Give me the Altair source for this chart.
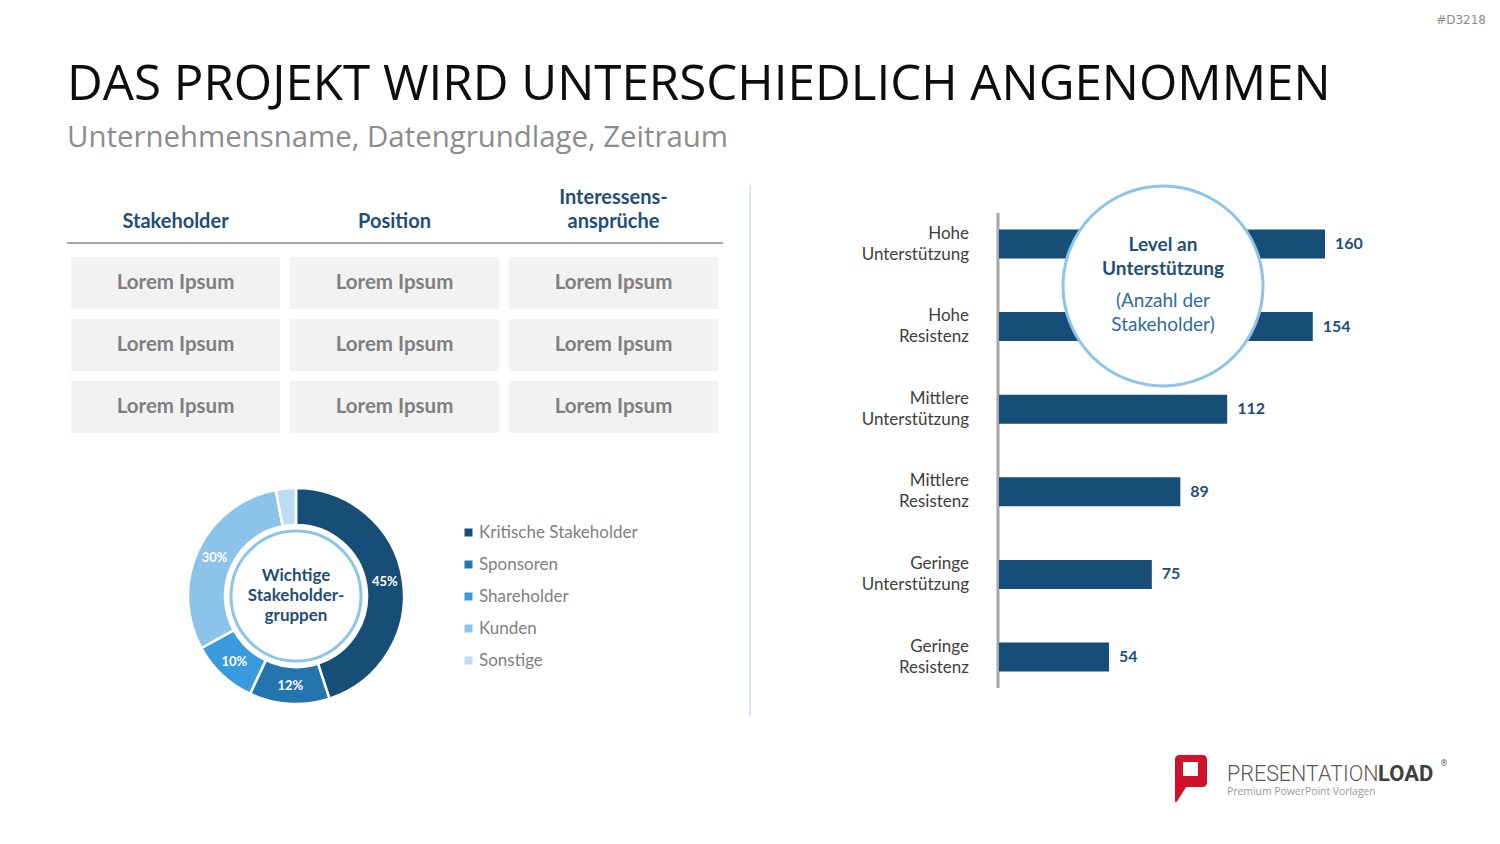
import altair as alt
import pandas as pd

# ---------------- data ----------------
table_headers = ["Stakeholder", "Position", "Interessens-\nansprüche"]
table_rows = [
    ["Lorem Ipsum", "Lorem Ipsum", "Lorem Ipsum"],
    ["Lorem Ipsum", "Lorem Ipsum", "Lorem Ipsum"],
    ["Lorem Ipsum", "Lorem Ipsum", "Lorem Ipsum"],
]
stakeholder_groups = ["Kritische Stakeholder", "Sponsoren", "Shareholder", "Kunden", "Sonstige"]
group_shares = [45, 12, 10, 30, 3]
group_labels = ["45%", "12%", "10%", "30%", ""]
group_colors = ["#174e78", "#2474b0", "#3a9ade", "#8bc3ea", "#bddcf4"]

support_levels = ["Hohe Unterstützung", "Hohe Resistenz", "Mittlere Unterstützung",
                  "Mittlere Resistenz", "Geringe Unterstützung", "Geringe Resistenz"]
support_counts = [160, 154, 112, 89, 75, 54]

DARK = "#1f4e79"
BAR = "#174e78"
LIGHT = "#8cc4ea"
CAL = "Lato"
OS = "Open Sans"

# ---------------- helpers ----------------
one = pd.DataFrame({"k": [0]})


def txt(text, x, y, size, color, weight="normal", font=CAL, align="left",
        baseline="alphabetic", lh=None, brk=None, dy=0):
    kw = dict(text=text, fontSize=size, color=color, fontWeight=weight, font=font,
              align=align, baseline=baseline, dy=dy)
    if lh:
        kw["lineHeight"] = lh
    if brk:
        kw["lineBreak"] = brk
    return alt.Chart(one).mark_text(**kw).encode(x=alt.value(x), y=alt.value(y))


def rule(x, y, x2=None, y2=None, color="#a6a6a6", w=2):
    enc = dict(x=alt.value(x), y=alt.value(y))
    if x2 is not None:
        enc["x2"] = alt.value(x2)
    if y2 is not None:
        enc["y2"] = alt.value(y2)
    return alt.Chart(one).mark_rule(color=color, strokeWidth=w).encode(**enc)


layers = []

# ---------------- titles ----------------
layers.append(txt("#D3218", 1486, 24, 12, "#8c8c8c", font="DejaVu Sans", align="right"))
layers.append(txt("DAS PROJEKT WIRD UNTERSCHIEDLICH ANGENOMMEN", 67, 100, 49.3, "#0d0d0d", font=OS))
layers.append(txt("Unternehmensname, Datengrundlage, Zeitraum", 67, 147, 29.4, "#8c8c8c", font=OS))

# ---------------- table ----------------
cells = pd.DataFrame([
    {"row": r, "col": c, "text": table_rows[r][c]}
    for r in range(len(table_rows)) for c in range(len(table_headers))
])
head_parts = [h.split("\n") for h in table_headers]
heads = pd.DataFrame({
    "col": list(range(len(table_headers))),
    "line1": [p[0] if len(p) > 1 else "" for p in head_parts],
    "line2": [p[-1] for p in head_parts],
})

xcol = alt.X("col:O", axis=None,
             scale=alt.Scale(type="band", domain=[0, 1, 2], range=[71, 718],
                             paddingInner=10 / 219, paddingOuter=0))
yrow = alt.Y("row:O", axis=None,
             scale=alt.Scale(type="band", domain=[0, 1, 2], range=[257, 433],
                             paddingInner=10 / 62, paddingOuter=0))

layers.append(alt.Chart(cells).mark_rect(color="#f2f2f2").encode(x=xcol, y=yrow))
layers.append(alt.Chart(cells).mark_text(font=CAL, fontSize=20.5, fontWeight="bold", color="#7f7f7f")
              .encode(x=xcol, y=yrow, text="text:N"))
layers.append(alt.Chart(heads).mark_text(font=CAL, fontSize=20, fontWeight="bold", color=DARK,
                                         baseline="middle")
              .encode(x=xcol, y=alt.value(198), text="line1:N"))
layers.append(alt.Chart(heads).mark_text(font=CAL, fontSize=20, fontWeight="bold", color=DARK,
                                         baseline="middle")
              .encode(x=xcol, y=alt.value(222), text="line2:N"))
layers.append(rule(67, 243, x2=723, color="#a6a6a6", w=2))

# ---------------- donut ----------------
donut = pd.DataFrame({"group": stakeholder_groups, "share": group_shares,
                      "label": group_labels, "idx": list(range(len(group_shares)))})
CX, CY = 296, 596
theta = alt.Theta("share:Q", stack=True)
color = alt.Color("group:N", sort=stakeholder_groups,
                  scale=alt.Scale(domain=stakeholder_groups, range=group_colors),
                  legend=alt.Legend(orient="none", legendX=460, legendY=524, title=None,
                                    symbolType="square", symbolSize=64, symbolStrokeWidth=0,
                                    labelFont=CAL, labelFontSize=17, labelColor="#7f7f7f",
                                    labelOffset=2, rowPadding=14, padding=0))
layers.append(alt.Chart(donut).mark_arc(innerRadius=71, outerRadius=108, stroke="white", strokeWidth=2.5)
              .encode(theta=theta, color=color, order=alt.Order("idx:Q"),
                      x=alt.value(CX), y=alt.value(CY)))
layers.append(alt.Chart(donut).mark_text(radius=90, font=CAL, fontSize=13, fontWeight="bold", color="white")
              .encode(theta=theta, order=alt.Order("idx:Q"), text="label:N",
                      x=alt.value(CX), y=alt.value(CY)))
layers.append(alt.Chart(one).mark_point(shape="circle", size=130 * 130, filled=False,
                                        stroke=LIGHT, strokeWidth=3, opacity=1)
              .encode(x=alt.value(CX), y=alt.value(CY)))
layers.append(txt("Wichtige Stakeholder- gruppen", CX, CY, 17, DARK, weight="bold",
                  align="center", baseline="middle", lh=20, brk=" ", dy=-20))

# ---------------- separator ----------------
layers.append(rule(750, 185, y2=716, color="#d9e9f7", w=2))

# ---------------- bar chart ----------------
bars = pd.DataFrame({"level": support_levels, "count": support_counts})
xb = alt.X("count:Q", axis=None, scale=alt.Scale(domain=[0, 160], range=[999, 1325], nice=False, zero=True))
yb = alt.Y("level:N", axis=None, sort=support_levels,
           scale=alt.Scale(type="band", domain=support_levels, range=[202.7, 698.3],
                           paddingInner=0.649, paddingOuter=0.3245))
layers.append(rule(998, 213, y2=688, color="#a6a6a6", w=3))
layers.append(alt.Chart(bars).mark_bar(color=BAR).encode(x=xb, y=yb))
layers.append(alt.Chart(bars).mark_text(align="left", baseline="middle", dx=10, font=CAL, fontSize=16,
                                        fontWeight="bold", color=DARK)
              .encode(x=xb, y=yb, text="count:Q"))
layers.append(alt.Chart(bars).mark_text(align="right", baseline="middle", lineBreak=" ", lineHeight=21,
                                        font=CAL, fontSize=17, color="#404040", dy=-10.5)
              .encode(x=alt.value(969), y=yb, text="level:N"))

# circle annotation
layers.append(alt.Chart(one).mark_point(shape="circle", size=200 * 200, filled=True, fill="white",
                                        stroke=LIGHT, strokeWidth=3, opacity=1, fillOpacity=1)
              .encode(x=alt.value(1163), y=alt.value(286)))
layers.append(txt("Level an|Unterstützung", 1163, 257, 19, DARK, weight="bold", align="center",
                  baseline="middle", lh=24, brk="|", dy=-12))
layers.append(txt("(Anzahl der|Stakeholder)", 1163, 313, 19, "#2e6b9e", align="center",
                  baseline="middle", lh=24, brk="|", dy=-12))

# ---------------- logo ----------------
P_PATH = ("M -0.667 -0.8 Q -0.667 -1 -0.467 -1 L 0.467 -1 Q 0.667 -1 0.667 -0.8 "
          "L 0.667 0.133 Q 0.667 0.333 0.467 0.333 L -0.2 0.333 L -0.6 0.958 "
          "Q -0.667 1 -0.667 0.9 Z "
          "M -0.333 -0.708 L -0.333 -0.125 L 0.292 -0.125 L 0.292 -0.708 Z")
layers.append(alt.Chart(one).mark_point(shape=P_PATH, size=2304, filled=True, color="#cf1229", opacity=1)
              .encode(x=alt.value(1191), y=alt.value(779)))
layers.append(txt("PRESENTATION", 1227, 781, 21.5, "#595959", weight=300, font="Roboto"))
layers.append(txt("LOAD", 1378, 781, 22, "#404040", weight="bold", font="Roboto"))
layers.append(txt("®", 1440, 766, 8, "#595959", font="DejaVu Sans"))
layers.append(txt("Premium PowerPoint Vorlagen", 1227, 795, 10.4, "#9a9a9a", font=OS))

chart = alt.layer(*layers).resolve_scale(
    x="independent", y="independent", color="independent", theta="independent"
).properties(
    width=1500, height=844, padding=0,
    autosize=alt.AutoSizeParams(type="none"),
    background="white",
).configure_view(stroke=None)

chart.save("out.html", embed_options={"renderer": "svg", "actions": False})
